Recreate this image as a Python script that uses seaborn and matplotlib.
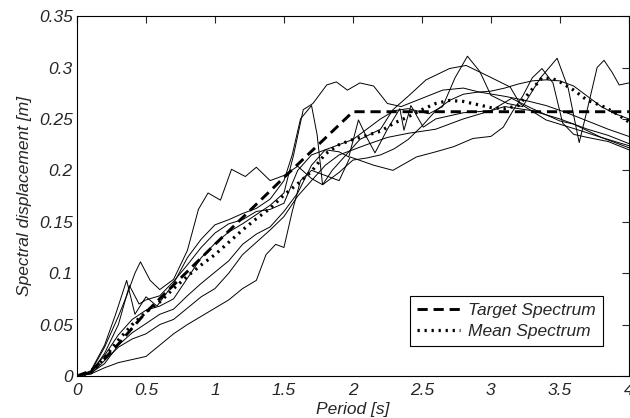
import matplotlib
matplotlib.use("Agg")
import matplotlib.pyplot as plt
import seaborn as sns
from matplotlib.lines import Line2D

# individual record spectra (period [s], spectral displacement [m])
t1 = [0, 0.1, 0.2, 0.3, 0.36, 0.42, 0.46, 0.53, 0.6, 0.7, 0.8, 0.88, 0.95, 1.04, 1.12, 1.22, 1.3, 1.4, 1.5,
      1.6, 1.7, 1.78, 1.9, 2.0, 2.1, 2.2, 2.3, 2.4, 2.5, 2.6, 2.7, 2.8, 2.9, 3.0, 3.1, 3.2, 3.3, 3.4, 3.5,
      3.6, 3.7, 3.8, 3.9, 4.0]
sd1 = [0, 0.004, 0.028, 0.058, 0.078, 0.1, 0.111, 0.093, 0.084, 0.094, 0.122, 0.162, 0.178, 0.171, 0.201,
       0.194, 0.203, 0.19, 0.195, 0.204, 0.192, 0.186, 0.198, 0.21, 0.212, 0.215, 0.221, 0.23, 0.243, 0.258,
       0.268, 0.274, 0.276, 0.277, 0.28, 0.284, 0.287, 0.288, 0.287, 0.282, 0.272, 0.262, 0.255, 0.25]

t2 = [0, 0.1, 0.2, 0.28, 0.36, 0.42, 0.5, 0.58, 0.7, 0.8, 0.9, 1.0, 1.1, 1.2, 1.3, 1.4, 1.5, 1.56, 1.62,
      1.7, 1.74, 1.78, 1.85, 1.95, 2.05, 2.2, 2.29, 2.4, 2.53, 2.7, 2.82, 2.99, 3.14, 3.21, 3.4, 3.64, 3.8, 4.0]
sd2 = [0, 0.005, 0.03, 0.06, 0.093, 0.06, 0.077, 0.068, 0.09, 0.115, 0.133, 0.147, 0.152, 0.158, 0.163,
       0.172, 0.19, 0.215, 0.25, 0.263, 0.235, 0.186, 0.2, 0.215, 0.23, 0.24, 0.259, 0.272, 0.288, 0.299,
       0.302, 0.291, 0.281, 0.265, 0.249, 0.239, 0.232, 0.222]

t3 = [0, 0.1, 0.2, 0.3, 0.38, 0.45, 0.5, 0.6, 0.7, 0.8, 0.9, 1.0, 1.1, 1.2, 1.3, 1.4, 1.5, 1.6, 1.7, 1.8,
      1.9, 2.0, 2.1, 2.2, 2.3, 2.4, 2.55, 2.65, 2.74, 2.83, 2.92, 3.0, 3.12, 3.23, 3.36, 3.48, 3.56, 3.64,
      3.7, 3.77, 3.82, 3.88, 3.93, 4.0]
sd3 = [0, 0.003, 0.022, 0.05, 0.088, 0.07, 0.074, 0.078, 0.092, 0.108, 0.125, 0.139, 0.148, 0.152, 0.16,
       0.162, 0.168, 0.2, 0.215, 0.22, 0.225, 0.23, 0.24, 0.25, 0.258, 0.26, 0.255, 0.262, 0.29, 0.311, 0.296,
       0.273, 0.265, 0.262, 0.29, 0.309, 0.28, 0.227, 0.26, 0.3, 0.307, 0.295, 0.283, 0.285]

t4 = [0, 0.1, 0.2, 0.3, 0.4, 0.5, 0.6, 0.7, 0.8, 0.9, 1.0, 1.1, 1.2, 1.3, 1.37, 1.44, 1.5, 1.56, 1.62, 1.7,
      1.8, 1.9, 1.98, 2.15, 2.29, 2.46, 2.6, 2.73, 2.87, 3.0, 3.09, 3.16, 3.23, 3.3, 3.37, 3.45, 3.52, 3.6,
      3.7, 3.85, 4.0]
sd4 = [0, 0.002, 0.008, 0.013, 0.016, 0.019, 0.03, 0.041, 0.05, 0.058, 0.066, 0.074, 0.085, 0.093, 0.118,
       0.128, 0.125, 0.16, 0.19, 0.2, 0.195, 0.19, 0.213, 0.205, 0.2, 0.213, 0.218, 0.223, 0.231, 0.233, 0.242,
       0.258, 0.272, 0.29, 0.299, 0.285, 0.246, 0.235, 0.232, 0.228, 0.22]

t5 = [0, 0.1, 0.2, 0.3, 0.4, 0.5, 0.6, 0.7, 0.8, 0.9, 1.0, 1.1, 1.2, 1.3, 1.4, 1.5, 1.57, 1.64, 1.71, 1.81,
      1.88, 1.96, 2.05, 2.15, 2.25, 2.35, 2.5, 2.65, 2.8, 2.92, 3.1, 3.25, 3.4, 3.55, 3.7, 3.85, 4.0]
sd5 = [0, 0.004, 0.02, 0.04, 0.055, 0.064, 0.068, 0.075, 0.095, 0.115, 0.129, 0.14, 0.148, 0.157, 0.166,
       0.178, 0.215, 0.259, 0.265, 0.283, 0.286, 0.278, 0.285, 0.282, 0.265, 0.262, 0.27, 0.278, 0.28, 0.276,
       0.272, 0.268, 0.263, 0.256, 0.248, 0.24, 0.233]

t6 = [0, 0.1, 0.2, 0.3, 0.4, 0.5, 0.6, 0.7, 0.8, 0.9, 1.0, 1.1, 1.2, 1.3, 1.4, 1.5, 1.6, 1.7, 1.8, 1.9, 1.97,
      2.04, 2.1, 2.16, 2.25, 2.34, 2.37, 2.42, 2.51, 2.6, 2.8, 3.0, 3.1, 3.3, 3.5, 3.7, 3.85, 4.0]
sd6 = [0, 0.003, 0.012, 0.03, 0.042, 0.051, 0.06, 0.065, 0.078, 0.09, 0.101, 0.112, 0.128, 0.138, 0.145,
       0.16, 0.178, 0.205, 0.22, 0.218, 0.213, 0.249, 0.232, 0.217, 0.24, 0.26, 0.239, 0.263, 0.242, 0.25,
       0.256, 0.258, 0.262, 0.258, 0.25, 0.24, 0.234, 0.226]

t7 = [0, 0.1, 0.2, 0.3, 0.4, 0.5, 0.6, 0.7, 0.8, 0.9, 1.0, 1.1, 1.2, 1.3, 1.4, 1.5, 1.6, 1.7, 1.8, 1.9, 2.0,
      2.1, 2.25, 2.4, 2.5, 2.6, 2.8, 3.0, 3.15, 3.3, 3.5, 3.6, 3.8, 4.0]
sd7 = [0, 0.002, 0.015, 0.028, 0.036, 0.041, 0.05, 0.055, 0.066, 0.077, 0.085, 0.1, 0.118, 0.13, 0.142,
       0.155, 0.175, 0.19, 0.205, 0.215, 0.22, 0.225, 0.232, 0.236, 0.238, 0.24, 0.25, 0.258, 0.27, 0.26,
       0.248, 0.245, 0.232, 0.224]

# target (dashed) and mean (dotted) spectra
t_target = [0, 0.1, 0.2, 0.3, 0.5, 1.0, 1.5, 2.0, 4.0]
sd_target = [0, 0.005, 0.017, 0.031, 0.062, 0.128, 0.193, 0.257, 0.257]

t_mean = [0, 0.1, 0.2, 0.3, 0.4, 0.5, 0.6, 0.7, 0.8, 0.9, 1.0, 1.1, 1.2, 1.3, 1.4, 1.5, 1.6, 1.7, 1.8, 1.9,
          2.0, 2.1, 2.2, 2.3, 2.4, 2.5, 2.6, 2.7, 2.8, 2.9, 3.0, 3.1, 3.2, 3.3, 3.37, 3.45, 3.5, 3.6, 3.7,
          3.8, 3.9, 4.0]
sd_mean = [0, 0.003, 0.018, 0.035, 0.05, 0.062, 0.072, 0.085, 0.097, 0.108, 0.118, 0.13, 0.142, 0.153,
           0.163, 0.176, 0.187, 0.199, 0.216, 0.225, 0.23, 0.234, 0.238, 0.246, 0.252, 0.259, 0.265, 0.268,
           0.267, 0.264, 0.261, 0.26, 0.263, 0.279, 0.29, 0.289, 0.286, 0.278, 0.268, 0.263, 0.256, 0.247]

records = [(t1, sd1), (t2, sd2), (t3, sd3), (t4, sd4), (t5, sd5), (t6, sd6), (t7, sd7)]

sns.set_style("white")
plt.rcParams['font.family'] = ['Liberation Sans', 'DejaVu Sans']
plt.rcParams['font.style'] = 'italic'
fs = 12.5

fig = plt.figure(figsize=(6.3, 4.18), dpi=100)
ax = fig.add_axes([0.1222, 0.1005, 0.876, 0.861])

for t, sd in records:
    sns.lineplot(x=t, y=sd, ax=ax, color='black', lw=0.7, sort=False, estimator=None)

dash = (0, (3.5, 2))
dots = (0, (0.7, 1.5))
sns.lineplot(x=t_target, y=sd_target, ax=ax, color='black', lw=2.1, sort=False, estimator=None,
             linestyle=dash)
sns.lineplot(x=t_mean, y=sd_mean, ax=ax, color='black', lw=2.3, sort=False, estimator=None,
             linestyle=dots)

ax.set_xlim(0, 4)
ax.set_ylim(0, 0.35)
ax.set_xticks([0, 0.5, 1, 1.5, 2, 2.5, 3, 3.5, 4])
ax.set_xticklabels(['0', '0.5', '1', '1.5', '2', '2.5', '3', '3.5', '4'])
ax.set_yticks([0, 0.05, 0.1, 0.15, 0.2, 0.25, 0.3, 0.35])
ax.set_yticklabels(['0', '0.05', '0.1', '0.15', '0.2', '0.25', '0.3', '0.35'])
ax.tick_params(direction='in', length=5, width=0.8, top=True, right=True, labelsize=fs, pad=3)
ax.tick_params(axis='x', pad=5)
for s in ax.spines.values():
    s.set_color('black')
    s.set_linewidth(0.8)

ax.set_xlabel('Period [s]', fontsize=fs, labelpad=3)
ax.set_ylabel('Spectral displacement [m]', fontsize=fs, labelpad=5)

handles = [Line2D([], [], color='black', lw=2.1, linestyle=dash),
           Line2D([], [], color='black', lw=2.3, linestyle=dots)]
leg = ax.legend(handles, ['Target Spectrum', 'Mean Spectrum'], loc='lower right',
                bbox_to_anchor=(0.953, 0.083), borderaxespad=0, fancybox=False, framealpha=1,
                edgecolor='black', handlelength=2.5, handletextpad=0.45, borderpad=0.4,
                labelspacing=0.35, fontsize=fs)
leg.get_frame().set_linewidth(0.8)

fig.savefig('out.png', dpi=100)
